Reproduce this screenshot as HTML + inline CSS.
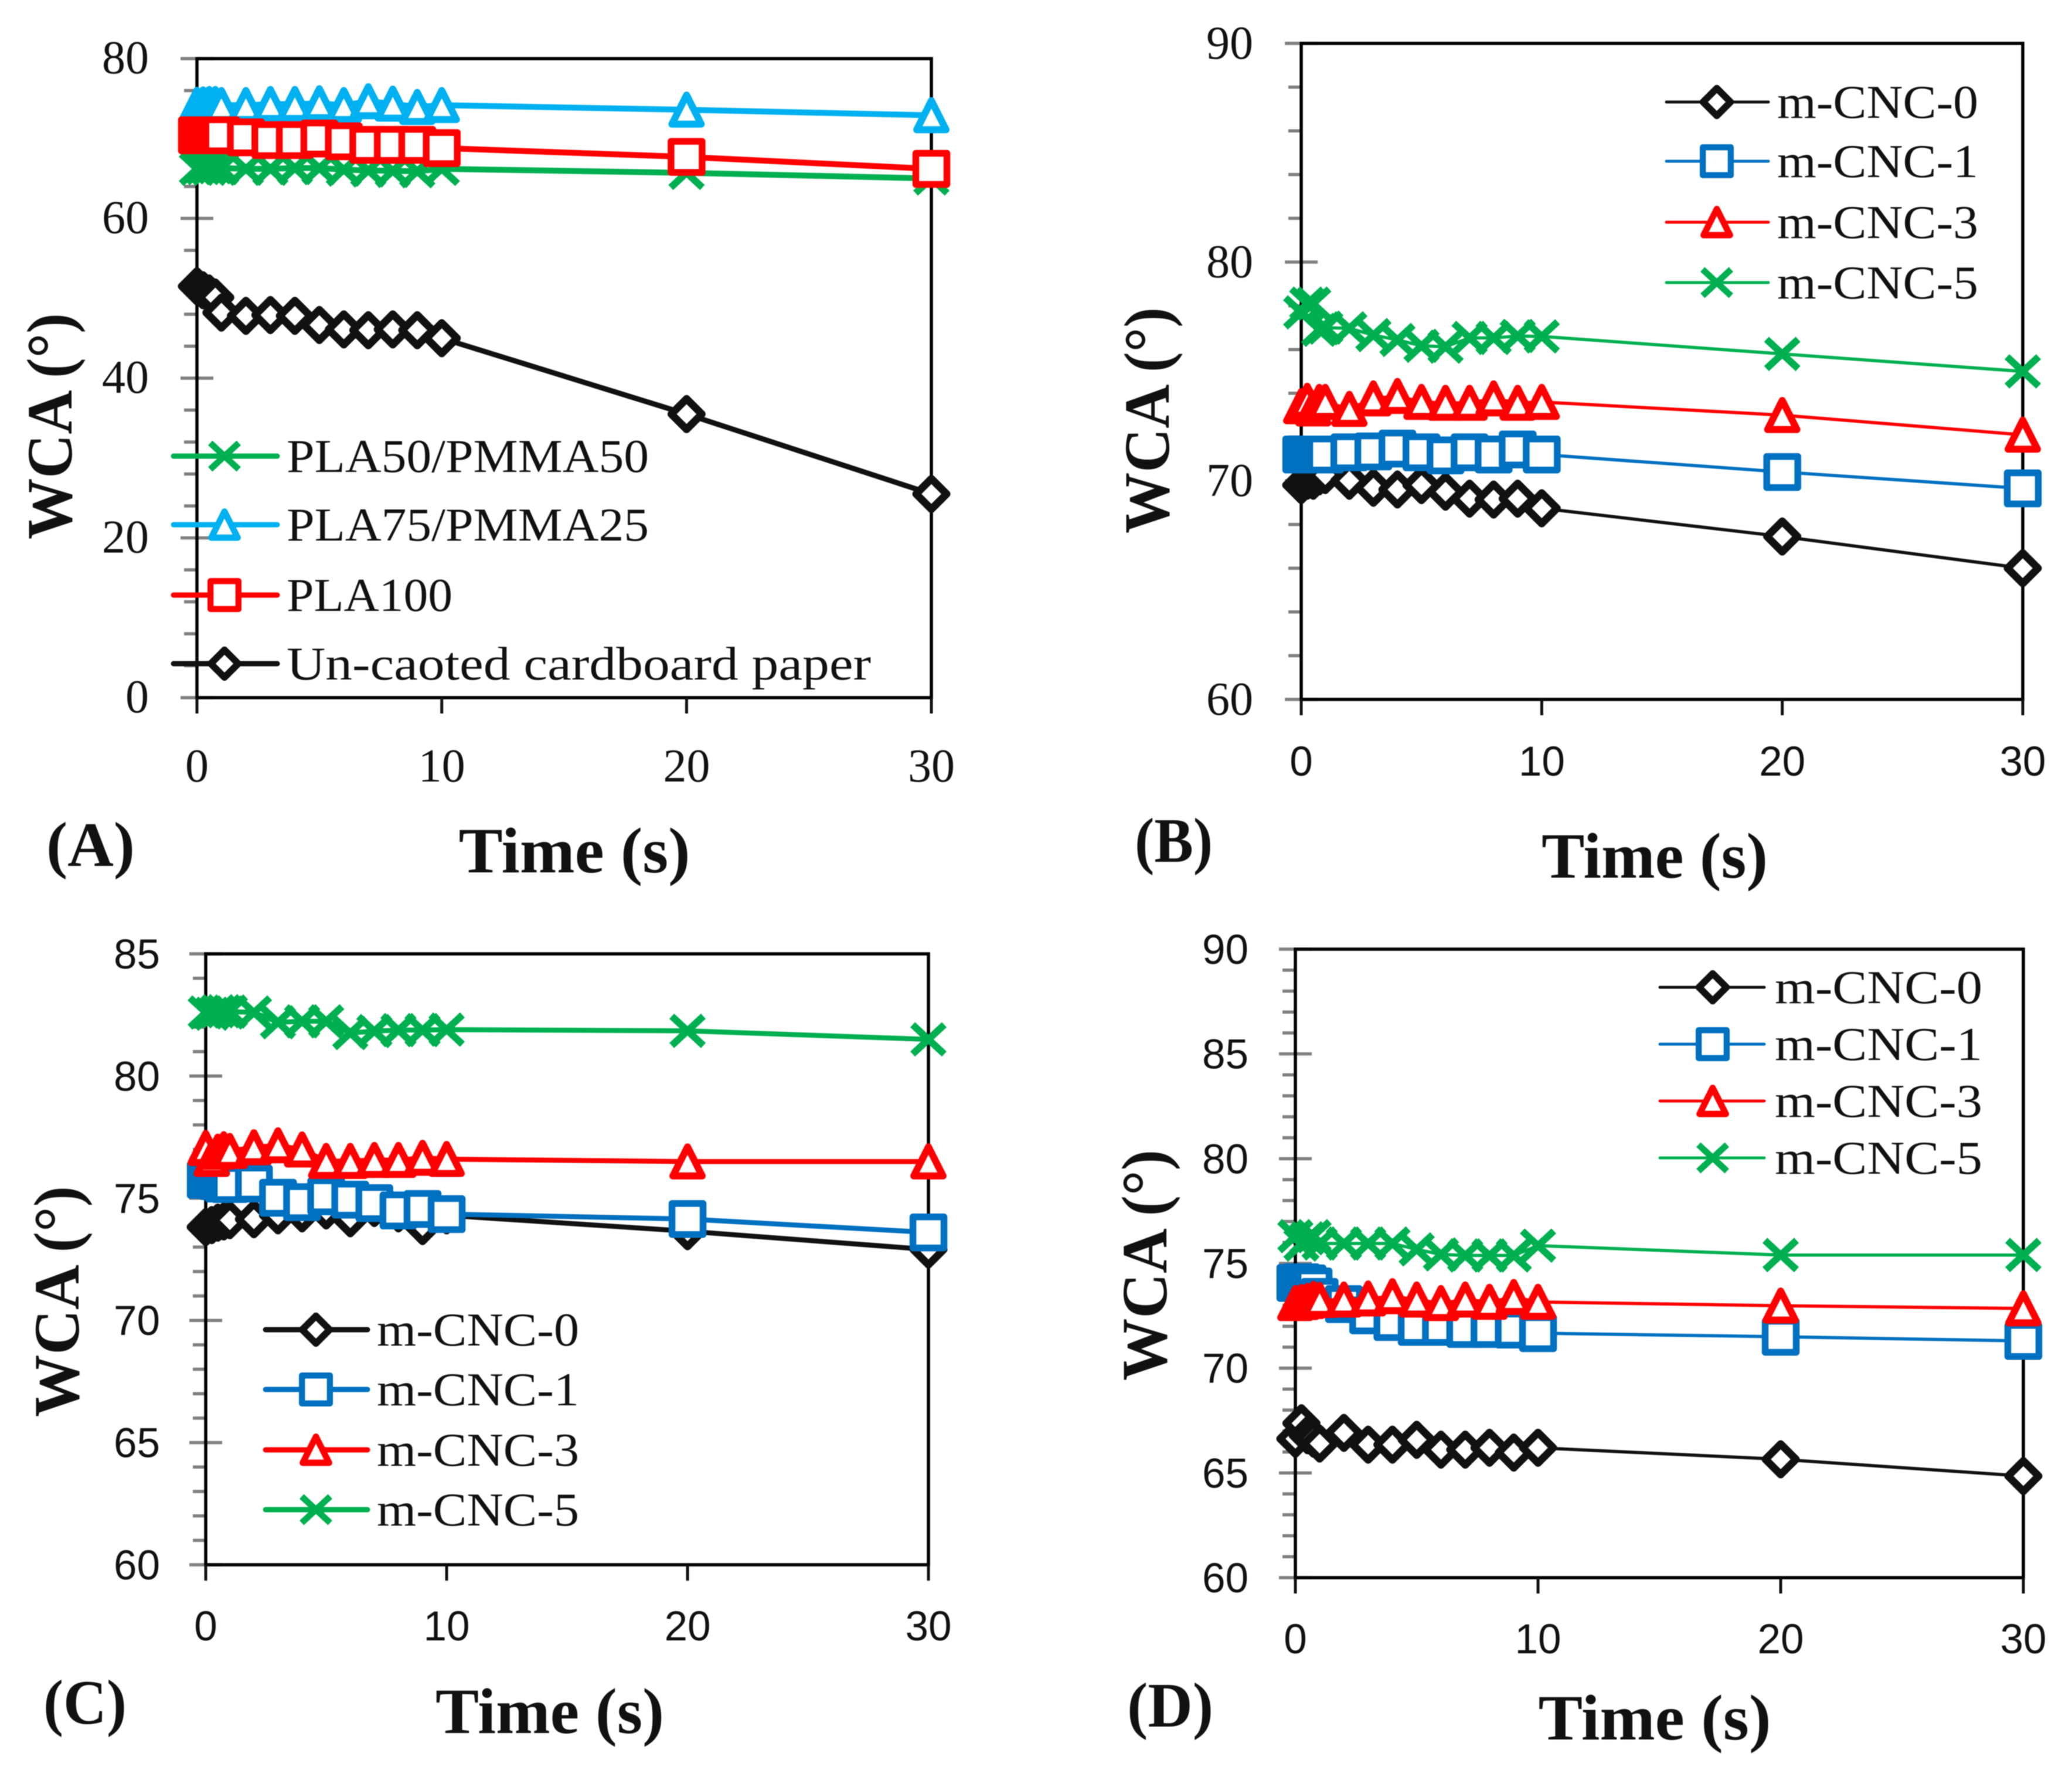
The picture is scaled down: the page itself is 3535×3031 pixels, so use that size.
<!DOCTYPE html>
<html lang="en">
<head>
<meta charset="utf-8">
<title>Water contact angle versus time</title>
<style>
html,body{margin:0;padding:0;background:#fff;}
svg{display:block;filter:blur(0.9px);}
</style>
</head>
<body>
<svg id="figure" xmlns="http://www.w3.org/2000/svg" width="3535" height="3031" viewBox="0 0 3535 3031"></svg>
<script>
// ---- shared data ----
const times = [0,0.25,0.5,0.75,1,2,3,4,5,6,7,8,9,10,20,30];
const xTickLabels = [0,10,20,30];

// ---- panel A ----
const aYTicks = [0,20,40,60,80];
const aPaper = [51.5,51,50.6,50.1,48.2,47.8,47.9,47.8,46.65,46.1,46.0,46.1,46.0,45,35.5,25.5];
const aPla100 = [70.4,70.4,70.4,70.4,70.4,70.15,69.8,69.8,70,69.65,69.2,69.2,69.2,68.8,67.7,66.2];
const aPla75 = [74.2,74.25,74.3,74.3,74.17,74.17,74.3,74.3,74.4,74.17,74.65,74.35,73.93,74.17,73.6,72.9];
const aPla50 = [66.2,66.3,66.2,66.4,66.3,66.2,66.2,66.3,66.3,66.1,66.0,65.95,65.9,66.2,65.7,65.0];

// ---- panel B ----
const bYTicks = [60,70,80,90];
const bCnc0 = [69.8,70,70,70.2,70.26,70,69.68,69.6,69.8,69.5,69.18,69.14,69.18,68.74,67.45,66.0];
const bCnc1 = [71.2,71.2,71.2,71.2,71.2,71.3,71.34,71.47,71.3,71.16,71.3,71.2,71.43,71.2,70.4,69.65];
const bCnc3 = [73.4,73.65,73.3,73.6,73.6,73.28,73.76,73.87,73.6,73.56,73.56,73.76,73.56,73.6,73,72.1];
const bCnc5 = [77.7,78.1,78.1,76.9,77.0,76.97,76.66,76.44,76.17,76.13,76.53,76.53,76.62,76.6,75.8,75.0];

// ---- panel C ----
const cYTicks = [60,65,70,75,80,85];
const cCnc0 = [73.82,73.9,74,74.05,74.1,74.14,74.3,74.38,74.5,74.18,74.6,74.38,73.86,74.3,73.65,72.9];
const cCnc1 = [75.75,75.8,75.7,75.6,75.58,75.6,75.02,74.84,75.08,74.94,74.8,74.5,74.56,74.35,74.15,73.6];
const cCnc3 = [77.05,76.6,76.9,77.0,76.93,77.08,77.16,76.99,76.52,76.52,76.56,76.56,76.65,76.6,76.5,76.5];
const cCnc5 = [82.6,82.55,82.65,82.65,82.64,82.6,82.2,82.24,82.24,81.76,81.84,81.88,81.88,81.9,81.85,81.5];

// ---- panel D ----
const dYTicks = [60,65,70,75,80,85,90];
const dCnc0 = [66.63,67.37,66.8,66.63,66.4,66.91,66.35,66.35,66.58,66.11,66.11,66.2,65.97,66.2,65.65,64.85];
const dCnc1 = [74.07,74.1,74.05,73.9,73.4,73.06,72.52,72.2,71.97,71.97,71.87,71.87,71.84,71.67,71.5,71.3];
const dCnc3 = [73.1,73.15,73.2,73.3,73.25,73.27,73.32,73.43,73.27,73.1,73.27,73.16,73.39,73.16,72.98,72.85];
const dCnc5 = [76.3,75.9,76.2,76.3,75.95,75.95,75.95,75.95,75.67,75.43,75.38,75.38,75.38,75.85,75.4,75.4];

// ---- series labels ----
const cncLabels = ['m-CNC-0','m-CNC-1','m-CNC-3','m-CNC-5'];
const plaLabels = ['PLA50/PMMA50','PLA75/PMMA25','PLA100','Un-caoted cardboard paper'];

const BLACK='#111111', BLUE='#0070c0', RED='#ff0000', GREEN='#00b050', SKY='#00b0f0';
const SERIF='"Liberation Serif", serif', SANS='"Liberation Sans", sans-serif';
const NS='http://www.w3.org/2000/svg';
const root=document.getElementById('figure');

function mk(tag,attrs,parent){
  const n=document.createElementNS(NS,tag);
  for(const k in attrs){n.setAttribute(k,attrs[k]);}
  (parent||root).appendChild(n);
  return n;
}

function drawMarker(parent,kind,cx,cy,color,scale){
  const s=scale||1;
  const g=mk('g',{transform:'translate('+cx+' '+cy+') scale('+s+')'},parent);
  
  
  if(kind==='square'){
    mk('rect',{x:-26.5,y:-26.5,width:53,height:53,fill:'#fff',stroke:color,'stroke-width':11.5,'stroke-linejoin':'round'},g);
  }else if(kind==='triangle'){
    mk('path',{d:'M0 -25 L25 24.5 L-25 24.5 Z',fill:'#fff',stroke:color,'stroke-width':12,'stroke-linejoin':'round'},g);
  }else if(kind==='diamond'){
    mk('path',{d:'M0 -26 L26 0 L0 26 L-26 0 Z',fill:'#fff',stroke:color,'stroke-width':13,'stroke-linejoin':'round'},g);
  }else{
    mk('path',{d:'M-27 -25 L27 25 M-27 25 L27 -25',fill:'none',stroke:color,'stroke-width':12},g);
  }
  return g;
}

function drawPanel(p){
  const sx=function(t){return p.x0+(t-0)/(30-0)*(p.x1-p.x0);};
  const sy=function(v){return p.yBot-(v-p.yMin)/(p.yMax-p.yMin)*(p.yBot-p.yTop);};
  const g=mk('g',{});
  
  

  // y ticks
  for(let v=p.yMin;v<=p.yMax+1e-6;v+=p.minorStep){
    const isMajor=Math.abs((v-p.yMin)/p.majorStep-Math.round((v-p.yMin)/p.majorStep))<1e-6;
    const tick=mk('line',{x1:p.x0-(isMajor?28:22),x2:isMajor?p.x0+28:p.x0,y1:sy(v),y2:sy(v),stroke:'#808080','stroke-width':5.5},g);
    
    
  }

  // frame
  const frame=mk('rect',{x:p.x0,y:p.yTop,width:p.x1-p.x0,height:p.yBot-p.yTop,fill:'none',stroke:'#000','stroke-width':5.5},g);
  
  

  // x ticks and labels
  p.xLabels.forEach(function(t){
    const tick=mk('line',{x1:sx(t),x2:sx(t),y1:p.yBot,y2:p.yBot+27,stroke:'#111','stroke-width':5},g);
    
    
    const lab=mk('text',{x:sx(t),y:p.xTickBase,'text-anchor':'middle','font-family':p.xFont,'font-size':p.xFontSize,fill:'#111'},g);
    lab.textContent=String(t);
    
    
  });

  // y labels
  p.yLabels.forEach(function(v){
    const lab=mk('text',{x:p.yLabelRight,y:sy(v)+p.yLabelDy,'text-anchor':'end','font-family':p.yFont,'font-size':p.yFontSize,fill:'#111'},g);
    lab.textContent=String(v);
    
    
  });

  // series
  p.series.forEach(function(s){
    const sg=mk('g',{},g);
    
    
    const pts=s.values.map(function(v,i){return sx(times[i])+','+sy(v);}).join(' ');
    const line=mk('polyline',{points:pts,fill:'none',stroke:s.color,'stroke-width':s.lw||p.lineWidth,'stroke-linejoin':'round'},sg);
    
    
    s.values.forEach(function(v,i){
      drawMarker(sg,s.marker,sx(times[i]),sy(v),s.color);
    });
  });

  // legend
  const lg=mk('g',{},g);
  
  
  p.legend.forEach(function(e,i){
    const y=p.legendRows[i];
    const entry=mk('g',{},lg);
    
    
    const ln=mk('line',{x1:p.legendLine[0],x2:p.legendLine[1],y1:y,y2:y,stroke:e.color,'stroke-width':p.legendLw,'stroke-linecap':'round'},entry);
    
    
    drawMarker(entry,e.marker,p.legendMarkerX,y,e.color,0.9);
    const t=mk('text',{x:p.legendTextX,y:y+p.legendDy,'font-family':SERIF,'font-size':p.legendFont,fill:'#111',textLength:e.w,lengthAdjust:'spacingAndGlyphs'},entry);
    t.textContent=e.label;
    
    
  });

  // titles
  const xt=mk('text',{x:p.xTitle[0],y:p.xTitle[1],'text-anchor':'middle','font-family':SERIF,'font-weight':'bold','font-size':110,fill:'#111',textLength:p.xTitle[2],lengthAdjust:'spacingAndGlyphs'},g);
  xt.textContent='Time (s)';
  
  

  const yt=mk('text',{transform:'translate('+p.yTitle[0]+' '+p.yTitle[1]+') rotate(-90)','text-anchor':'middle','font-family':SERIF,'font-weight':'bold','font-size':110,fill:'#111',textLength:p.yTitle[2],lengthAdjust:'spacingAndGlyphs'},g);
  yt.textContent='WCA (°)';
  
  

  const pl=mk('text',{x:p.tag[0],y:p.tag[1],'font-family':SERIF,'font-weight':'bold','font-size':108,fill:'#111',textLength:p.tag[2],lengthAdjust:'spacingAndGlyphs'},g);
  pl.textContent='('+p.id.toUpperCase()+')';
  
  
}

drawPanel({
  id:'a',x0:336,x1:1589,yTop:100,yBot:1190,yMin:0,yMax:80,majorStep:20,minorStep:4,
  xLabels:xTickLabels,yLabels:aYTicks,xTickBase:1333,xFont:SERIF,xFontSize:80,yFont:SERIF,yFontSize:80,yLabelRight:254,yLabelDy:25,
  lineWidth:10,
  series:[
    {label:plaLabels[0],values:aPla50,color:GREEN,marker:'cross'},
    {label:plaLabels[1],values:aPla75,color:SKY,marker:'triangle'},
    {label:plaLabels[2],values:aPla100,color:RED,marker:'square'},
    {label:plaLabels[3],values:aPaper,color:BLACK,marker:'diamond',lw:9}
  ],
  legend:[
    {label:plaLabels[0],color:GREEN,marker:'cross',w:618},
    {label:plaLabels[1],color:SKY,marker:'triangle',w:618},
    {label:plaLabels[2],color:RED,marker:'square',w:283},
    {label:plaLabels[3],color:BLACK,marker:'diamond',w:997}
  ],
  legendRows:[778,895,1015,1132],legendLine:[296,473],legendMarkerX:383,legendTextX:489,legendLw:9,legendDy:27,legendFont:80,
  xTitle:[980,1488,395],yTitle:[122,727,386],tag:[79,1477,151]
});

drawPanel({
  id:'b',x0:2220,x1:3451,yTop:74,yBot:1193,yMin:60,yMax:90,majorStep:10,minorStep:2,
  xLabels:xTickLabels,yLabels:bYTicks,xTickBase:1323,xFont:SANS,xFontSize:71,yFont:SERIF,yFontSize:80,yLabelRight:2138,yLabelDy:26,
  lineWidth:5.5,
  series:[
    {label:cncLabels[0],values:bCnc0,color:BLACK,marker:'diamond'},
    {label:cncLabels[1],values:bCnc1,color:BLUE,marker:'square'},
    {label:cncLabels[2],values:bCnc3,color:RED,marker:'triangle'},
    {label:cncLabels[3],values:bCnc5,color:GREEN,marker:'cross'}
  ],
  legend:[
    {label:cncLabels[0],color:BLACK,marker:'diamond',w:343},
    {label:cncLabels[1],color:BLUE,marker:'square',w:343},
    {label:cncLabels[2],color:RED,marker:'triangle',w:343},
    {label:cncLabels[3],color:GREEN,marker:'cross',w:343}
  ],
  legendRows:[174,275,379,482],legendLine:[2843,3017],legendMarkerX:2929,legendTextX:3032,legendLw:5,legendDy:27,legendFont:80,
  xTitle:[2823,1497,386],yTitle:[1994,717,386],tag:[1936,1470,133]
});

drawPanel({
  id:'c',x0:351,x1:1584,yTop:1627,yBot:2669,yMin:60,yMax:85,majorStep:5,minorStep:1,
  xLabels:xTickLabels,yLabels:cYTicks,xTickBase:2798,xFont:SANS,xFontSize:71,yFont:SANS,yFontSize:71,yLabelRight:273,yLabelDy:25,
  lineWidth:8.5,
  series:[
    {label:cncLabels[0],values:cCnc0,color:BLACK,marker:'diamond'},
    {label:cncLabels[1],values:cCnc1,color:BLUE,marker:'square'},
    {label:cncLabels[2],values:cCnc3,color:RED,marker:'triangle'},
    {label:cncLabels[3],values:cCnc5,color:GREEN,marker:'cross'}
  ],
  legend:[
    {label:cncLabels[0],color:BLACK,marker:'diamond',w:345},
    {label:cncLabels[1],color:BLUE,marker:'square',w:345},
    {label:cncLabels[2],color:RED,marker:'triangle',w:345},
    {label:cncLabels[3],color:GREEN,marker:'cross',w:345}
  ],
  legendRows:[2268,2370,2473,2575],legendLine:[453,627],legendMarkerX:539,legendTextX:643,legendLw:9,legendDy:27,legendFont:80,
  xTitle:[938,2956,390],yTitle:[134,2220,394],tag:[74,2940,142]
});

drawPanel({
  id:'d',x0:2210,x1:3452,yTop:1619,yBot:2691,yMin:60,yMax:90,majorStep:5,minorStep:1,
  xLabels:xTickLabels,yLabels:dYTicks,xTickBase:2820,xFont:SANS,xFontSize:71,yFont:SANS,yFontSize:71,yLabelRight:2130,yLabelDy:25,
  lineWidth:5.5,
  series:[
    {label:cncLabels[0],values:dCnc0,color:BLACK,marker:'diamond'},
    {label:cncLabels[1],values:dCnc1,color:BLUE,marker:'square'},
    {label:cncLabels[2],values:dCnc3,color:RED,marker:'triangle'},
    {label:cncLabels[3],values:dCnc5,color:GREEN,marker:'cross'}
  ],
  legend:[
    {label:cncLabels[0],color:BLACK,marker:'diamond',w:354},
    {label:cncLabels[1],color:BLUE,marker:'square',w:354},
    {label:cncLabels[2],color:RED,marker:'triangle',w:354},
    {label:cncLabels[3],color:GREEN,marker:'cross',w:354}
  ],
  legendRows:[1684,1781,1878,1975],legendLine:[2832,3010],legendMarkerX:2922,legendTextX:3028,legendLw:5,legendDy:27,legendFont:80,
  xTitle:[2823,2967,397],yTitle:[1990,2158,394],tag:[1923,2945,147]
});
</script>
</body>
</html>
